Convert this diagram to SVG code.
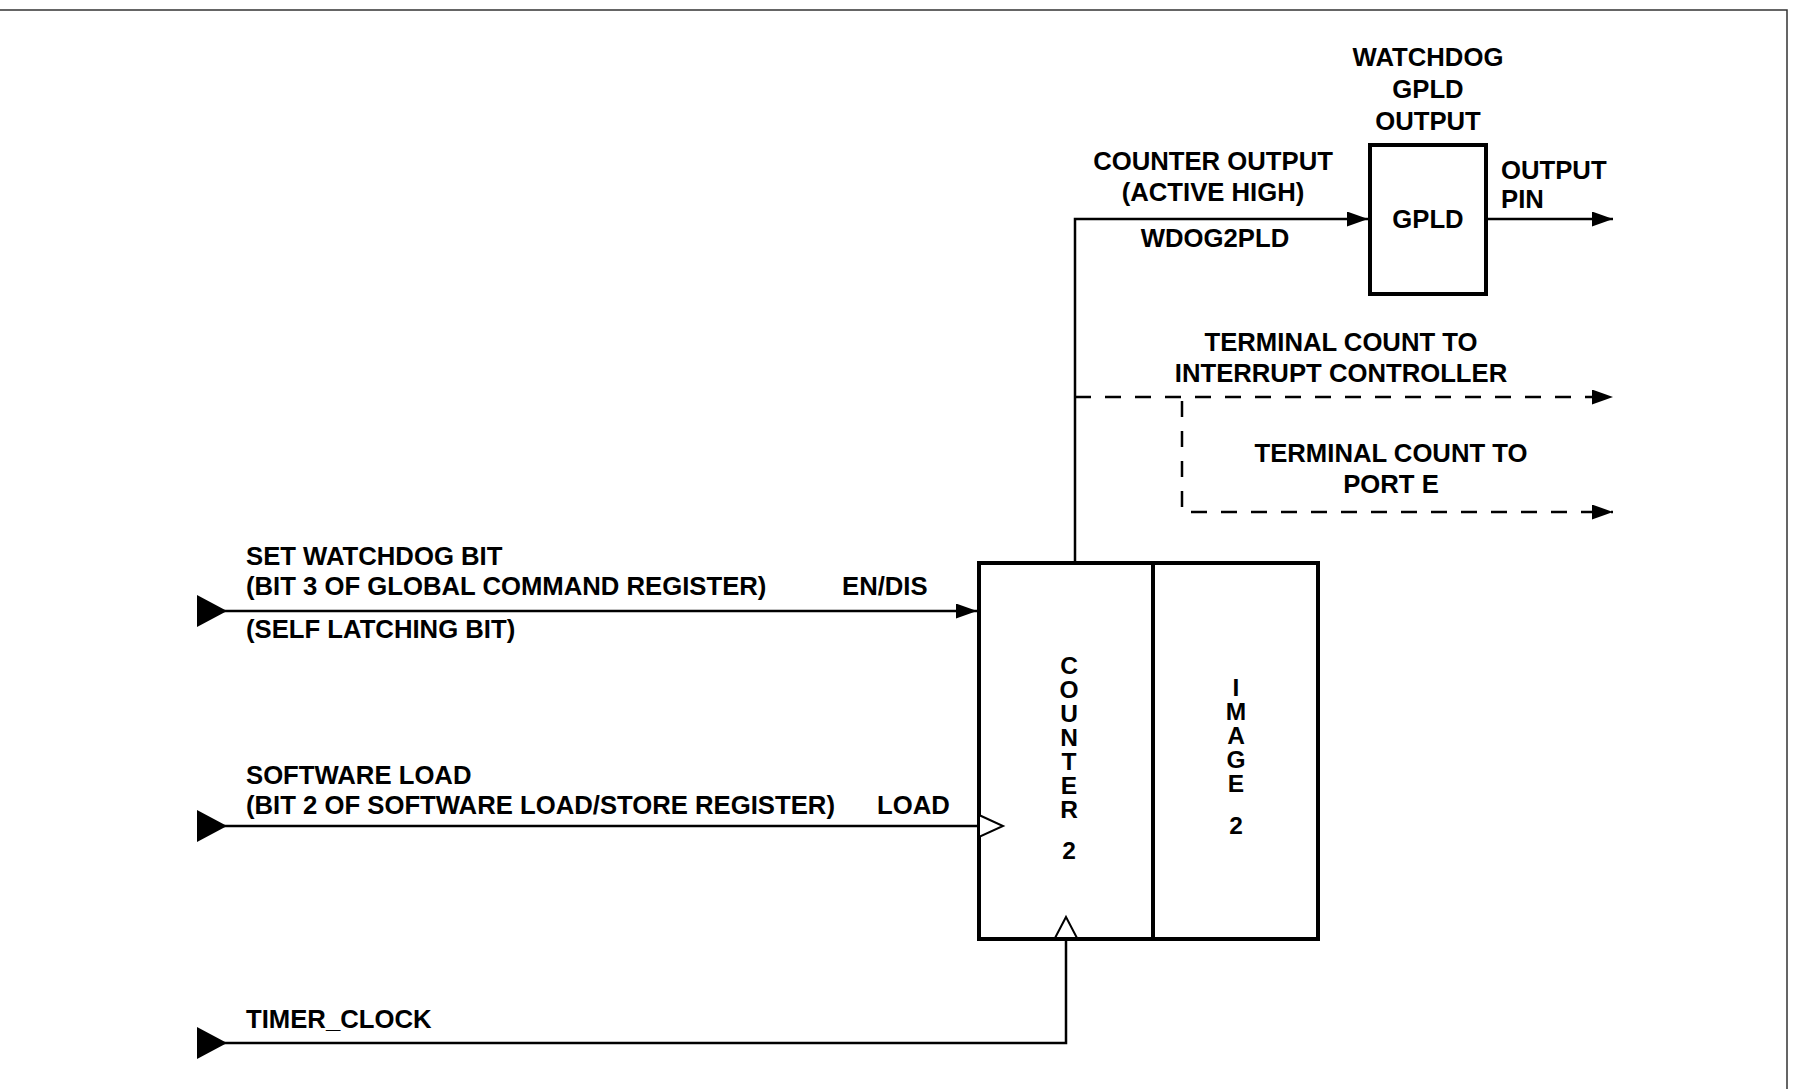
<svg xmlns="http://www.w3.org/2000/svg" width="1794" height="1089" viewBox="0 0 1794 1089">
  <style>
    text { font-family: "Liberation Sans", Arial, sans-serif; font-weight: bold; font-size: 25.7px; fill: #000; }
    .c { text-anchor: middle; }
    .v { text-anchor: middle; font-size: 24.5px; }
    .box { fill: #fff; stroke: #000; stroke-width: 4; }
    .wire { fill: none; stroke: #000; stroke-width: 2.5; }
    .dash { fill: none; stroke: #000; stroke-width: 2.5; stroke-dasharray: 16 14; }
    .open { fill: #fff; stroke: #000; stroke-width: 2; }
    .tri { fill: #000; }
  </style>
  <defs>
    <marker id="arr" markerUnits="userSpaceOnUse" markerWidth="21" markerHeight="15" refX="21" refY="7.5" orient="auto">
      <path d="M0,0 L21,7.5 L0,15 Z" fill="#000" stroke="none"/>
    </marker>
  </defs>

  <!-- frame -->
  <g id="frame">
    <path d="M0,10 H1787 V1089" fill="none" stroke="#333" stroke-width="1.5"/>
  </g>

  <!-- connectors -->
  <g id="connectors">
    <path class="wire" d="M1075,562 V219 H1368" marker-end="url(#arr)"/>
    <path class="wire" d="M1488,219 H1613" marker-end="url(#arr)"/>
    <path class="dash" d="M1075,397 H1613" marker-end="url(#arr)"/>
    <path class="dash" d="M1182,401 V512 H1613" marker-end="url(#arr)"/>
    <path class="wire" d="M222,611 H977" marker-end="url(#arr)"/>
    <path class="wire" d="M222,826 H979"/>
    <path class="wire" d="M222,1043 H1066 V939"/>
    <polygon class="tri" points="197,595 227,611 197,627"/>
    <polygon class="tri" points="197,810 227,826 197,842"/>
    <polygon class="tri" points="197,1027 227,1043 197,1059"/>
  </g>

  <!-- GPLD node -->
  <g id="gpld">
    <rect class="box" x="1370" y="145" width="116" height="149" stroke-width="3.5"/>
    <text class="c" x="1428" y="228">GPLD</text>
    <text class="c" x="1428" y="66">WATCHDOG</text>
    <text class="c" x="1428" y="98">GPLD</text>
    <text class="c" x="1428" y="130">OUTPUT</text>
  </g>

  <!-- Counter / Image node -->
  <g id="counter">
    <rect class="box" x="979" y="563" width="339" height="376"/>
    <line x1="1153" y1="563" x2="1153" y2="939" stroke="#000" stroke-width="4"/>
    <polygon class="open" points="979,815 1003,826 979,837"/>
    <polygon class="open" points="1066,917 1077,938 1055,938"/>
    <text class="v"><tspan x="1069" y="674">C</tspan><tspan x="1069" y="698">O</tspan><tspan x="1069" y="722">U</tspan><tspan x="1069" y="746">N</tspan><tspan x="1069" y="770">T</tspan><tspan x="1069" y="794">E</tspan><tspan x="1069" y="818">R</tspan><tspan x="1069" y="859">2</tspan></text>
    <text class="v"><tspan x="1236" y="696">I</tspan><tspan x="1236" y="720">M</tspan><tspan x="1236" y="744">A</tspan><tspan x="1236" y="768">G</tspan><tspan x="1236" y="792">E</tspan><tspan x="1236" y="834">2</tspan></text>
  </g>

  <!-- labels -->
  <g id="labels">
    <text class="c" x="1213" y="170">COUNTER OUTPUT</text>
    <text class="c" x="1213" y="201">(ACTIVE HIGH)</text>
    <text class="c" x="1215" y="247">WDOG2PLD</text>
    <text x="1501" y="179">OUTPUT</text>
    <text x="1501" y="208">PIN</text>
    <text class="c" x="1341" y="351">TERMINAL COUNT TO</text>
    <text class="c" x="1341" y="382">INTERRUPT CONTROLLER</text>
    <text class="c" x="1391" y="462">TERMINAL COUNT TO</text>
    <text class="c" x="1391" y="493">PORT E</text>
    <text x="246" y="565">SET WATCHDOG BIT</text>
    <text x="246" y="595">(BIT 3 OF GLOBAL COMMAND REGISTER)</text>
    <text x="842" y="595">EN/DIS</text>
    <text x="246" y="638">(SELF LATCHING BIT)</text>
    <text x="246" y="784">SOFTWARE LOAD</text>
    <text x="246" y="814">(BIT 2 OF SOFTWARE LOAD/STORE REGISTER)</text>
    <text x="877" y="814">LOAD</text>
    <text x="246" y="1028">TIMER_CLOCK</text>
  </g>
</svg>
